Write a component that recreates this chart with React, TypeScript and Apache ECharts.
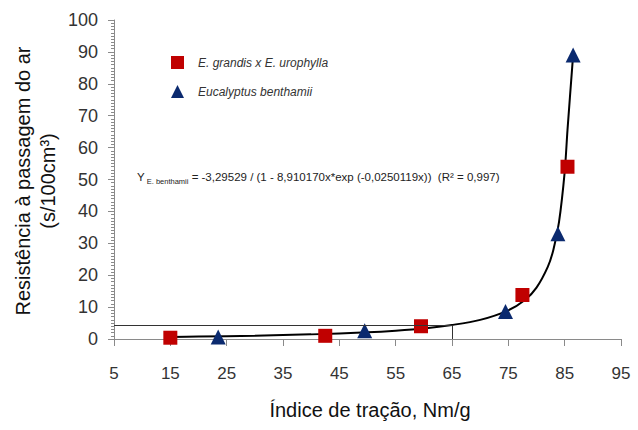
import React, { useEffect, useRef } from "react";
import * as echarts from "echarts";

const grandis: [number, number][] = [
  [15, 0.4], [42.5, 1.0], [59.5, 4.0], [77.5, 13.8], [85.5, 54],
];
const benthamii: [number, number][] = [
  [23.5, 0.6], [49.5, 2.6], [74.5, 8.6], [83.8, 33], [86.5, 89],
];
const curve: [number, number][] = [
  [15, 0.6], [20, 0.75], [30, 1.03], [40, 1.45], [50, 2.1], [55, 2.6], [60, 3.3],
  [65, 4.4], [70, 6.0], [75, 9.0], [78, 12.3], [80, 16.1], [82, 22.6], [83, 28],
  [84, 36.7], [85, 52.3], [85.5, 65.5], [86.5, 89],
];
const refLevel = 4.3;
const refX = 65;
const xTicks = [5, 95, 10];
const yTicks = [0, 100, 10];
const legendNames = ["E. grandis x E. urophylla", "Eucalyptus benthamii"];

export default function App() {
  const ref = useRef<HTMLDivElement>(null);
  useEffect(() => {
    const chart = echarts.init(ref.current!, null, { renderer: "svg" });
    const font = "'Liberation Sans', Arial, sans-serif";
    chart.setOption({
      animation: false,
      textStyle: { fontFamily: font },
      grid: { left: 114, right: 17, top: 20, bottom: 91 },
      xAxis: {
        type: "value",
        min: xTicks[0],
        max: xTicks[1],
        interval: xTicks[2],
        splitLine: { show: false },
        axisLine: { lineStyle: { color: "#8a8a8a" } },
        axisTick: { show: true, length: 7, lineStyle: { color: "#8a8a8a" } },
        axisLabel: { fontSize: 17, color: "#333", margin: 26, fontFamily: font },
      },
      yAxis: {
        type: "value",
        min: yTicks[0],
        max: yTicks[1],
        interval: yTicks[2],
        splitLine: { show: false },
        axisLine: { show: true, lineStyle: { color: "#8a8a8a" } },
        axisTick: { show: true, length: 6, lineStyle: { color: "#8a8a8a" } },
        minorTick: { show: true, splitNumber: 10, length: 3, lineStyle: { color: "#8a8a8a" } },
        axisLabel: { fontSize: 18, color: "#333", margin: 16, fontFamily: font },
      },
      legend: {
        orient: "vertical",
        left: 166,
        top: 51,
        itemGap: 16,
        itemWidth: 13,
        itemHeight: 13,
        data: legendNames,
        textStyle: {
          fontStyle: "italic",
          fontSize: 12,
          color: "#333",
          fontFamily: font,
          padding: [0, 0, 0, 9],
        },
      },
      series: [
        {
          type: "line",
          name: "fit",
          data: curve,
          smooth: 0.3,
          showSymbol: false,
          symbol: "none",
          lineStyle: { color: "#000", width: 2 },
          markLine: {
            silent: true,
            symbol: "none",
            label: { show: false },
            lineStyle: { color: "#333", width: 1, type: "solid" },
            data: [
              [{ coord: [xTicks[0], refLevel] }, { coord: [refX, refLevel] }],
              [{ coord: [refX, refLevel] }, { coord: [refX, 0] }],
            ],
          },
          z: 1,
        },
        {
          type: "scatter",
          name: legendNames[0],
          data: grandis,
          symbol: "rect",
          symbolSize: 14,
          itemStyle: { color: "#C00000", opacity: 1 },
          z: 3,
        },
        {
          type: "scatter",
          name: legendNames[1],
          data: benthamii,
          symbol: "triangle",
          symbolSize: 15,
          itemStyle: { color: "#0B2A6F", opacity: 1 },
          z: 3,
        },
      ],
      graphic: [
        {
          type: "text",
          x: 23,
          y: 181,
          rotation: Math.PI / 2,
          style: {
            text: "Resistência à passagem do ar",
            fontSize: 20,
            fontFamily: font,
            fill: "#111",
            align: "center",
            verticalAlign: "middle",
          },
        },
        {
          type: "text",
          x: 48,
          y: 181,
          rotation: Math.PI / 2,
          style: {
            text: "(s/100cm³)",
            fontSize: 20,
            fontFamily: font,
            fill: "#111",
            align: "center",
            verticalAlign: "middle",
          },
        },
        {
          type: "text",
          x: 370,
          y: 410,
          style: {
            text: "Índice de tração, Nm/g",
            fontSize: 20,
            fontFamily: font,
            fill: "#111",
            align: "center",
            verticalAlign: "middle",
          },
        },
        {
          type: "text",
          x: 137,
          y: 177,
          style: {
            text: "{a|Y}{b| E. benthamii}{a| = -3,29529 / (1 - 8,910170x*exp (-0,0250119x))  (R² = 0,997)}",
            fontFamily: font,
            fill: "#222",
            verticalAlign: "middle",
            rich: {
              a: { fontSize: 11.5, fontFamily: font, fill: "#222", verticalAlign: "bottom" },
              b: { fontSize: 7.5, fontFamily: font, fill: "#222", verticalAlign: "bottom", padding: [0, 0, -2, 0] },
            },
          },
        },
      ],
    });
    return () => chart.dispose();
  }, []);
  return (
    <div
      ref={ref}
      style={{ position: "fixed", left: 0, top: 0, width: 638, height: 430, background: "#fff" }}
    />
  );
}
